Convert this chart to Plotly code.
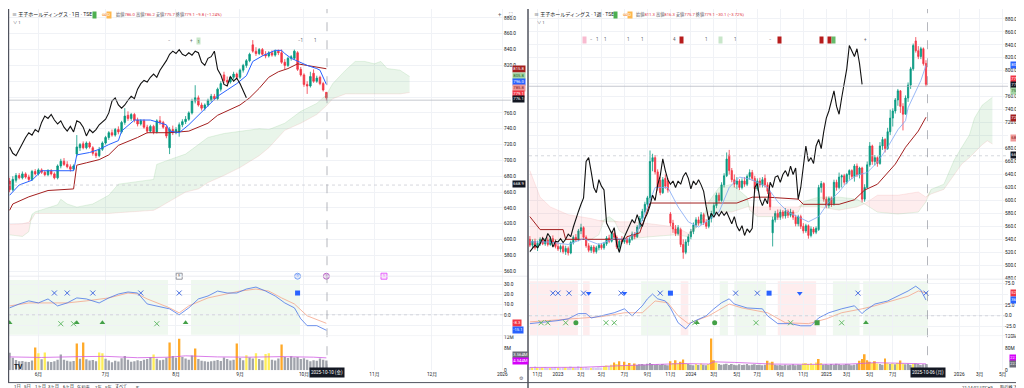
import plotly.graph_objects as go

W, H = 1024, 388
def PX(p): return p / W
def PY(p): return 1 - p / H

# ======================= LEFT PANEL : 王子ホールディングス · 1日 (daily) =======================
L_open = [674,663,675,681,678,683,679,676,686,683, 688,685,682,687,683,678,693,699,695,692,
          689,708,716,721,716,722,716,709,706,714, 722,729,735,732,739,736,748,757,753,758,
          751,746,750,742,737,743,736,750,748,742, 716,739,735,736,745,749,752,760,775,779,
          770,766,770,776,781,778,790,808,801,799, 805,809,805,814,820,826,846,838,835,840,
          834,832,836,833,838,836,824,820,829,829, 836,815,808,796,794,810,800,805,797,786.0]
L_high = [678,680,684,684,686,685,682,688,689,690, 690,687,689,689,685,695,702,703,699,695,
          695,732,722,724,724,724,718,712,717,724, 731,737,739,741,743,750,766,762,760,760,
          754,752,752,745,745,745,752,756,750,744, 742,744,742,748,752,756,762,778,795,782,
          773,772,778,784,784,792,800,812,806,807, 812,811,816,822,828,836,852,843,842,842,
          838,838,839,840,840,840,828,831,833,840, 838,818,810,800,812,815,807,807,799,786.2]
L_low = [660,661,672,676,676,677,674,674,681,681, 683,680,680,681,676,676,690,693,690,686,
         687,705,712,714,714,715,706,703,704,712, 720,726,730,730,733,734,745,750,750,748,
         743,744,740,734,735,733,734,745,740,728, 708,732,733,730,742,746,750,758,772,768,
         763,763,768,774,776,776,787,798,796,797, 802,802,803,811,817,824,836,832,833,832,
         829,830,831,831,833,822,815,818,826,827, 813,806,793,784,792,798,798,795,787,775.7]
L_close = [663,676,681,678,683,679,676,686,683,688, 685,682,687,683,678,693,699,695,692,689,
           693,717,720,716,722,717,709,706,714,722, 729,735,732,739,736,748,756,753,758,751,
           746,750,742,737,743,736,750,748,742,731, 739,735,739,745,749,752,760,775,779,770,
           766,770,776,781,778,790,797,801,799,805, 809,805,814,820,826,834,838,835,840,834,
           832,836,833,838,836,824,820,829,831,838, 815,808,796,794,806,800,804,797,789,779.1]
L_vol = [6.4,4.6,3.8,3.3,3.4,3.1,3.0,3.6,8.4,6.2, 4.0,6.5,3.2,3.0,3.3,3.9,5.8,3.9,3.5,3.2,
         3.4,9.8,4.2,10.2,4.0,3.6,3.8,3.3,6.5,6.2, 4.2,3.6,2.9,3.5,3.2,4.4,5.2,3.9,3.1,3.3,
         3.7,3.4,3.9,4.1,4.8,5.8,4.2,3.7,3.9,4.6, 10.2,5.2,4.6,11.6,4.9,4.3,3.9,5.4,8.0,4.1,
         3.5,3.3,3.1,3.3,3.5,3.8,3.4,4.7,4.1,3.6, 3.9,9.8,4.5,3.7,5.5,4.7,4.3,6.2,4.1,3.7,
         6.0,6.2,3.9,3.6,4.3,9.5,4.9,4.5,5.1,4.7, 4.9,4.1,4.4,3.9,3.3,3.7,3.5,4.3,3.9,3.564]
L_vcol = ("ggggggggoy" "gygggggggg" "gogoggggyy" "gggggggggg" "gggggygggg"
          "oggoggggog" "gggggggggg" "goggyggygg" "yygggogggg" "gggggggggg")
L_vma_i = [0,10,22,30,40,50,55,65,75,85,95,99]
L_vma = [4.9,4.7,5.0,5.1,4.6,4.8,5.3,4.9,4.8,5.0,4.8,4.544]
L_tenkan_i = [0,3,7,10,20,21,25,28,31,34,35,39,44,49,50,53,56,59,62,65,68,71,74,76,79,83,85,86,88,90,93,96,97,99]
L_tenkan = [656,669,675,687,687,707,710,714,720,725,737,751,751,745,737,735,745,757,770,781,
            789,797,807,825,832,839,839,835,829,825,820,816,814,796]
L_kijun_i = [0,1,6,12,20,21,24,28,31,34,40,43,50,56,62,65,72,75,78,81,84,87,90,93,98,99]
L_kijun = [637,645,654,662,664,694,697,701,707,719,729,735,735,737,747,757,770,779,791,805,
           812,816,822,820,817,815.8]
L_cloud_i = [0,4,6,7,8,15,16,18,21,26,31,34,45,46,50,55,59,62,67,72,78,81,86,91,96,99,101,105,108,111,114,116,118,122,125]
L_spanA = [606,604,610,632,635,644,651,645,641,645,656,670,676,695,701,708,720,729,734,737,
           740,739,747,762,772,783,797,814,825,825,822,825,816,814,806]
L_spanB = [619,620,622,626,633,633,633,633,633,633,633,634,637,639,648,660,664,672,681,691,
           706,716,738,747,758,769,778,784,784,784,784,784,784,784,785.8]
L_oscB_i = [0,3,6,9,12,15,18,21,24,28,31,34,37,40,43,46,50,53,56,59,62,65,68,71,74,77,80,83,86,89,91,93,96,99]
L_oscB = [6.8,10.6,13.6,11.6,15.5,8.7,11.6,16.5,15.5,11.6,16.5,20.3,22.3,21.3,10.6,8.7,5.8,0,6.8,15.5,
          18.4,23.2,21.3,21.3,25.2,27.1,23.2,18.4,11.6,6.8,-3.9,-10.6,-10.6,-15.1]
L_oscO_i = [0,6,12,18,24,31,37,40,43,50,53,56,62,68,72,77,81,85,89,93,99]
L_oscO = [8.7,11.6,11.6,11.6,13.6,16.5,21.3,20.3,15.5,6.8,1.9,8.7,16.5,20.3,23.2,25.2,23.2,16.5,10.6,-1,-8.3]
L_bg_start = [-0.5, 56.7]
L_bg_end = [49.5, 90.75]
L_blueX = [14,18,26,41,53]
L_greenX = [16,20,46]
L_greenTri = [0,21,29,55]
L_blueSq = [90]
L_ev_E = [53]; L_ev_D = [90]; L_ev_P = [99]; L_ev_S = [117]
L_tick_idx = [9,30,52,72,92,114,132,154]
L_tick_txt = ['6月','7月','8月','9月','10月','11月','12月','2026']

# ======================= RIGHT PANEL : 王子ホールディングス · 1週 (weekly) =======================
R_open = [540,531,537,527,534,540,533,539,532,541, 536,529,525,529,521,526,519,535,543,539,
          553,558,543,530,523,528,521,527,531,527, 533,542,537,549,543,528,540,536,541,535,
          540,548,544,559,572,583,594,604,660,666, 644,631,612,634,630,579,565,556,549,555,
          532,520,536,544,552,562,570,565,578,566, 560,572,580,592,608,600,624,638,670,646,
          632,625,630,620,630,625,637,643,634,618, 630,624,634,624,612,550,570,580,574,582,
          576,583,577,582,574,564,575,560,553,561, 546,556,551,555,620,626,602,592,603,595,
          628,620,636,638,628,640,646,637,653,640, 650,602,620,655,684,660,666,657,684,694,
          680,706,727,738,755,769,745,733,758,778, 803,846,831,822,834,811.3]
R_high = [545,540,541,538,543,544,542,543,545,546, 540,534,532,532,530,529,538,546,548,556,
          564,560,546,534,531,531,530,534,534,536, 545,547,552,552,546,540,545,545,545,544,
          552,551,562,576,587,598,607,677,672,670, 648,636,636,640,634,582,570,562,562,558,
          540,540,548,556,566,574,575,582,581,571, 576,584,596,612,612,628,642,674,678,650,
          640,636,633,634,636,640,648,647,638,634, 635,636,640,628,615,575,584,586,586,585,
          588,586,587,585,578,578,578,565,564,563, 560,559,560,624,630,628,606,606,606,632,
          632,643,640,641,642,648,648,656,657,652, 652,625,660,690,686,670,668,690,698,696,
          712,740,742,758,772,770,750,762,782,806, 842,852,838,837,836,816.3]
R_low = [528,526,524,522,530,531,530,529,530,533, 526,522,520,518,516,515,517,532,536,537,
         548,540,527,520,519,518,518,523,524,524, 530,534,535,540,525,520,533,533,532,531,
         538,540,542,556,568,580,590,600,645,640, 615,608,610,618,612,560,550,545,546,528,
         510,517,530,540,548,558,561,562,562,556, 557,566,577,588,596,598,620,636,640,628,
         620,618,616,617,621,622,632,630,612,615, 620,620,620,610,585,529,566,570,570,572,
         572,573,574,570,560,560,556,549,550,541, 543,548,548,553,612,598,588,588,590,592,
         615,617,620,624,625,632,633,629,636,634, 597,598,618,652,655,654,652,655,678,674,
         678,701,714,734,746,735,708,745,752,772, 800,828,818,818,808,775.7]
R_close = [531,537,527,534,540,533,539,532,541,536, 529,525,529,521,526,519,535,543,539,553,
           558,543,530,523,528,521,527,531,527,533, 542,537,549,543,528,537,536,541,535,540,
           548,544,559,572,583,594,604,660,666,644, 620,612,632,622,616,565,556,549,558,532,
           520,536,544,552,562,570,565,578,566,560, 572,580,592,608,600,624,638,664,646,632,
           625,630,620,630,625,637,643,634,618,630, 624,632,624,614,590,570,580,574,582,576,
           583,577,582,574,564,575,560,553,561,546, 556,551,557,620,626,602,592,603,595,628,
           620,636,638,628,640,646,637,653,640,650, 602,620,655,684,660,666,657,684,694,680,
           706,727,738,755,769,745,733,758,778,803, 839,831,822,834,811,779.1]
R_vol = [12,10,13,9,8,10,11,9,8,10, 12,9,8,10,11,9,13,10,9,14, 12,10,11,9,8,10,9,11,10,15,
         17,14,20,28,22,32,18,30,20,26, 18,24,19,21,22,20,23,26,22,20, 21,19,22,20,18,32,26,36,24,30,
         38,24,22,20,18,22,19,24,20,18, 22,113,36,28,22,20,21,23,19,22, 20,18,21,19,20,22,18,20,21,19,
         20,18,20,34,28,30,20,18,19,17, 20,18,19,21,18,20,19,24,26,22, 25,20,28,40,26,20,21,19,22,20,
         23,21,19,20,22,21,18,20,22,34, 40,57,36,30,26,32,24,22,20,42, 25,22,24,21,26,35,24,21,23,20,
         22,24,22,19,21,22.364]
R_vcol = ("pypypyppyp" "pyppyppypp" "ypppyppppy" "ypyoyoyoyo" "yogggggggg" "gggggoyoyo"
          "oygggygygg" "yooygggggg" "gggggggggg" "gggoyogggg" "gggggggyyy" "yyyoyggggg"
          "gggggggggo" "ooooyoyggo" "ygygyoyggg" "yggggg")
R_vma_i = [0,20,35,50,60,70,72,80,95,110,125,135,145,155]
R_vma = [10,10.5,16,20,24,22,30,28,22,21,22,27,24,22.763]
R_tenkan_i = [0,7,15,21,27,33,38,42,46,49,54,58,62,66,70,74,78,82,86,89,93,97,101,105,109,113,117,121,124,128,132,136,140,144,147,148,151,153,155]
R_tenkan = [536,536,532,541,532,541,540,552,590,620,620,590,567,559,570,582,620,636,633,628,
            620,598,582,575,567,575,598,613,628,639,643,659,682,709,723,743,769,785,808.3]
R_kijun_i = [0,4,13,14,37,38,43,47,81,87,93,105,107,121,127,131,136,143,147,149,152,155]
R_kijun = [575,555,555,540,540,544,550,596,596,605,605,602,594,594,601,616,625,656,682,692,707,728.3]
R_cloud_i = [0,4,8,15,24,27,29,31,33,35,40,47,57,62,66,68,70,74,79,85,86,89,97,105,107,113,121,128,131,136,144,152,155,157,162,166,169,172,174,177,179,181]
R_spanA = [539,539,539,540,540,547,570,575,569,553,541,544,547,544,562,575,598,620,625,605,
           585,575,575,582,598,605,605,602,595,582,579,582,598,617,625,662,682,701,727,747,753,759]
R_spanB = [646,605,590,578,572,569,567,567,567,567,567,564,559,549,567,572,582,582,582,590,
           590,590,590,590,590,590,585,590,595,608,608,613,605,610,617,640,656,666,674,686,692,687]
R_oscB_i = [0,4,11,15,19,22,24,28,33,37,40,44,46,48,50,53,55,58,61,63,65,69,72,75,78,80,85,91,93,97,102,106,110,113,117,122,127,130,131,135,140,144,148,151,153,155]
R_oscB = [-18,-16,-11,-7,5,5,-5,0,7,16,0,23,39,50,39,34,18,-16,-30,-16,-11,0,16,30,39,27,18,16,0,-18,
          -18,-23,-23,-5,7,16,23,5,11,27,34,45,57,68,59,36.3]
R_oscO_i = [0,15,28,37,44,49,54,58,62,70,78,83,93,100,109,116,122,130,135,148,152,155]
R_oscO = [-14,-7,-2,7,7,34,30,0,-18,0,27,18,7,-16,-18,-7,7,16,23,45,57,52.6]
R_pink_start = [0,20.8,59,97]
R_pink_end = [18.8,23.4,62,112]
R_green_start = [43.5,74.3,80,118.6,130.4]
R_green_end = [55.2,77.5,92.4,129,155.8]
R_blueX = [9,11,15.3,21,35.7,51,80.5,89,128.4,155]
R_blueTri = [23,37,105.6]
R_blueSq = [55,93.6]
R_greenX = [4.4,7,14,29.8,33,64.5,88.5,102,122]
R_greenDot = [18,72.3]
R_greenTri = [65.4,131.5]
R_greenSq = [112.4]
R_ev_R = [3.2,14.9]
R_ev_D = [23,49.7,75.8,101.9,128,155.3]
R_ev_E = [29.6,42.6,55.6,68.7,83,93.5,107.8,121.5,135.2,147]
R_ev_S = [159.5]
R_tick_idx = [3,11,20,28,37,46,55,63,72,81,89,98,107,116,124,133,142,168,176,185]
R_tick_txt = ['11月','2023','3月','5月','7月','9月','11月','2024','3月','5月','7月','9月','11月',
              '2025','3月','5月','7月','2026','3月','5月']

# price-scale tags: (text, background, text colour, pixel row)
L_tags_main = [('815.8', '#a31f1f', 'white', 61), ('805.8', '#a5d6a7', '#1b5e20', 67.5),
               ('796.0', '#2962FF', 'white', 74), ('785.8', '#ef9a9a', '#7f1d1d', 80),
               ('779.1', '#F23645', 'white', 85.5), ('776.1', '#131722', 'white', 90.5),
               ('668.9', '#131722', 'white', 177)]
L_tags_osc = [('-8.3', '#F23645', 'white', 317.5), ('-15.1', '#2962FF', 'white', 324)]
L_tags_vol = [('3.564M', '#6b6e78', 'white', 349.5), ('4.544M', '#d500f9', 'white', 355.5)]
R_tags_main = [('808.3', '#2962FF', 'white', 57), ('779.1', '#F23645', 'white', 71),
               ('776.1', '#131722', 'white', 76.5), ('759.0', '#a5d6a7', '#1b5e20', 83),
               ('728.3', '#a31f1f', 'white', 110), ('687.0', '#ef9a9a', '#7f1d1d', 130),
               ('668.9', '#131722', 'white', 148)]
R_tags_osc = [('52.6', '#F23645', 'white', 287), ('36.3', '#2962FF', 'white', 294)]
R_tags_vol = [('22.763M', '#d500f9', 'white', 352.5), ('22.364M', '#6b6e78', 'white', 358.5)]

# ======================= styling =======================
UP, DN = '#089981', '#F23645'
TENKAN, KIJUN = '#2962FF', '#A31F1F'
CLOUD_G, CLOUD_R = 'rgba(76,175,80,0.12)', 'rgba(242,54,69,0.09)'
BG_G, BG_R = 'rgba(76,175,80,0.09)', 'rgba(242,54,69,0.09)'
VC = {'g': '#a0a3ab', 'o': '#ffa928', 'y': '#ffee58', 'p': '#d9cdee'}
OSC_B, OSC_O = '#4a76e8', '#f4a48a'
FONT = 'Roboto, "Noto Sans CJK JP", sans-serif'

fig = go.Figure()

def add_cloud(xs, a, b, xa, ya):
    m = [max(p, q) for p, q in zip(a, b)]
    common = dict(mode='lines', xaxis=xa, yaxis=ya, showlegend=False, hoverinfo='skip')
    fig.add_trace(go.Scatter(x=xs, y=b, line=dict(width=0), **common))
    fig.add_trace(go.Scatter(x=xs, y=m, line=dict(width=0), fill='tonexty', fillcolor=CLOUD_G, **common))
    fig.add_trace(go.Scatter(x=xs, y=a, line=dict(width=0), **common))
    fig.add_trace(go.Scatter(x=xs, y=m, line=dict(width=0), fill='tonexty', fillcolor=CLOUD_R, **common))
    fig.add_trace(go.Scatter(x=xs, y=a, line=dict(color='rgba(129,199,132,0.35)', width=0.6), **common))
    fig.add_trace(go.Scatter(x=xs, y=b, line=dict(color='rgba(239,154,154,0.35)', width=0.6), **common))

def line(xs, ys, color, width, xa, ya, dash=None):
    fig.add_trace(go.Scatter(x=xs, y=ys, mode='lines', line=dict(color=color, width=width, dash=dash),
                             xaxis=xa, yaxis=ya, showlegend=False, hoverinfo='skip'))

def candles(o, h, l, c, xa, ya):
    fig.add_trace(go.Candlestick(x=list(range(len(c))), open=o, high=h, low=l, close=c,
                                 xaxis=xa, yaxis=ya, whiskerwidth=0,
                                 increasing=dict(line=dict(color=UP, width=0.8), fillcolor=UP),
                                 decreasing=dict(line=dict(color=DN, width=0.8), fillcolor=DN),
                                 showlegend=False, hoverinfo='skip'))

def marks(xs, yv, symbol, color, size, xa, ya, lw=1.0, fill=None, text=None, tsize=3.5, tcolor='#333'):
    fig.add_trace(go.Scatter(x=xs, y=[yv] * len(xs), mode='markers+text' if text else 'markers',
                             text=[text] * len(xs) if text else None, textposition='middle center',
                             textfont=dict(size=tsize, color=tcolor),
                             marker=dict(symbol=symbol, size=size, color=fill or color,
                                         line=dict(color=color, width=lw)),
                             xaxis=xa, yaxis=ya, cliponaxis=False, showlegend=False, hoverinfo='skip'))

# ---------- left main ----------
add_cloud(L_cloud_i, L_spanA, L_spanB, 'x', 'y')
line(L_kijun_i, L_kijun, KIJUN, 1.0, 'x', 'y')
line(L_tenkan_i, L_tenkan, TENKAN, 1.0, 'x', 'y')
line([i - 25 for i in range(25, len(L_close))], L_close[25:], '#111111', 1.1, 'x', 'y')
candles(L_open, L_high, L_low, L_close, 'x', 'y')

# ---------- left oscillator ----------
line(L_oscO_i, L_oscO, OSC_O, 0.8, 'x2', 'y2')
line(L_oscB_i, L_oscB, OSC_B, 0.8, 'x2', 'y2')
marks(L_blueX, 21.3, 'x-thin', '#4a6fe0', 5, 'x2', 'y2', lw=1)
marks(L_greenX, -8.7, 'x-thin', '#66bb6a', 5, 'x2', 'y2', lw=1)
marks(L_greenTri, -7.7, 'triangle-up', '#43a047', 5, 'x2', 'y2', lw=0)
marks(L_blueSq, 21.3, 'square', '#2962FF', 5, 'x2', 'y2', lw=0)
marks(L_ev_E, 37.7, 'square', '#787b86', 6, 'x2', 'y2', lw=0.8, fill='white', text='E')
marks(L_ev_D, 37.7, 'circle', '#5b8def', 6, 'x2', 'y2', lw=0.8, fill='#e3ecfd', text='D', tcolor='#2962FF')
marks(L_ev_P, 37.7, 'circle', '#ab47bc', 6, 'x2', 'y2', lw=0.8, fill='#f3e5f5', text='S', tcolor='#ab47bc')
marks(L_ev_S, 37.7, 'square', '#e040fb', 6, 'x2', 'y2', lw=0.8, fill='#fce4fc', text='S', tcolor='#e040fb')

# ---------- left volume ----------
fig.add_trace(go.Bar(x=list(range(len(L_vol))), y=L_vol, width=0.72,
                     marker=dict(color=[VC[c] for c in L_vcol], line=dict(width=0)),
                     xaxis='x3', yaxis='y3', showlegend=False, hoverinfo='skip'))
line(L_vma_i, L_vma, '#d05ce3', 0.8, 'x3', 'y3')

# ---------- right main ----------
add_cloud(R_cloud_i, R_spanA, R_spanB, 'x4', 'y4')
line(R_kijun_i, R_kijun, KIJUN, 1.0, 'x4', 'y4')
line(R_tenkan_i, R_tenkan, '#7fa7f5', 0.8, 'x4', 'y4')
line([j - 25 for j in range(25, len(R_close))], R_close[25:], '#111111', 1.1, 'x4', 'y4')
candles(R_open, R_high, R_low, R_close, 'x4', 'y4')

# ---------- right oscillator ----------
line(R_oscO_i, R_oscO, OSC_O, 0.8, 'x5', 'y5')
line(R_oscB_i, R_oscB, OSC_B, 0.8, 'x5', 'y5')
marks(R_blueX, 52, 'x-thin', '#4a6fe0', 5, 'x5', 'y5', lw=1)
marks(R_blueTri, 52, 'triangle-down', '#2962FF', 5, 'x5', 'y5', lw=0)
marks(R_blueSq, 52, 'square', '#2962FF', 5, 'x5', 'y5', lw=0)
marks(R_greenX, -16, 'x-thin', '#66bb6a', 5, 'x5', 'y5', lw=1)
marks(R_greenDot, -16, 'circle', '#43a047', 5, 'x5', 'y5', lw=0)
marks(R_greenTri, -16, 'triangle-up', '#43a047', 5, 'x5', 'y5', lw=0)
marks(R_greenSq, -16, 'square', '#43a047', 5, 'x5', 'y5', lw=0)
marks(R_ev_R, 91, 'square', '#e57373', 6, 'x5', 'y5', lw=0.8, fill='#fdecec', text='D', tcolor='#e53935')
marks(R_ev_D, 91, 'circle', '#5b8def', 6, 'x5', 'y5', lw=0.8, fill='#e3ecfd', text='D', tcolor='#2962FF')
marks(R_ev_E, 91, 'square', '#787b86', 6, 'x5', 'y5', lw=0.8, fill='white', text='E')
marks(R_ev_S, 91, 'square', '#e040fb', 6, 'x5', 'y5', lw=0.8, fill='#fce4fc', text='S', tcolor='#e040fb')

# ---------- right volume ----------
fig.add_trace(go.Bar(x=list(range(len(R_vol))), y=R_vol, width=0.72,
                     marker=dict(color=[VC[c] for c in R_vcol], line=dict(width=0)),
                     xaxis='x6', yaxis='y6', showlegend=False, hoverinfo='skip'))
line(R_vma_i, R_vma, '#d05ce3', 0.8, 'x6', 'y6')

# ======================= axes =======================
tickf = dict(size=4.8, color='#131722', family=FONT)
GRID = '#f0f2f6'
def xax(dom, rng, anchor, vals, txt, show):
    return dict(domain=dom, range=rng, anchor=anchor, tickvals=vals, ticktext=txt,
                showticklabels=show, showgrid=True, gridcolor=GRID, gridwidth=0.6, zeroline=False,
                showline=False, ticks='', tickfont=tickf, fixedrange=True, rangeslider=dict(visible=False))

def yax(top, bot, rng, pos, vals, fmt, tags, grid=True):
    # hide tick labels that sit under a price-scale tag (as on the reference)
    texts = []
    for v in vals:
        ypx = top + (rng[1] - v) / (rng[1] - rng[0]) * (bot - top)
        hidden = any(abs(ypx - t[3]) < 3.6 for t in tags)
        texts.append('' if hidden else fmt(v))
    return dict(domain=[PY(bot), PY(top)], range=rng, anchor='free', position=pos, side='right',
                tickvals=vals, ticktext=texts, showgrid=grid, gridcolor=GRID, gridwidth=0.6,
                zeroline=False, showline=False, ticks='', tickfont=tickf, fixedrange=True)

LXD, RXD = [0, PX(503)], [PX(521), PX(1000)]
LXR, RXR = [-0.5, 156.7], [-0.35, 187.1]
LPOS, RPOS = PX(495), PX(996)
lp = list(range(560, 881, 20)); rp = list(range(480, 881, 20))
f1 = lambda v: f'{v:.1f}'
fm = lambda v: f'{v}M' if v else '0'
layout = dict(
    xaxis=xax(LXD, LXR, 'y', L_tick_idx, L_tick_txt, False),
    xaxis2=xax(LXD, LXR, 'y2', L_tick_idx, L_tick_txt, False),
    xaxis3=xax(LXD, LXR, 'y3', L_tick_idx, L_tick_txt, True),
    xaxis4=xax(RXD, RXR, 'y4', R_tick_idx, R_tick_txt, False),
    xaxis5=xax(RXD, RXR, 'y5', R_tick_idx, R_tick_txt, False),
    xaxis6=xax(RXD, RXR, 'y6', R_tick_idx, R_tick_txt, True),
    yaxis=yax(0, 270, [553.75, 891.25], LPOS, lp, f1, L_tags_main),
    yaxis2=yax(270, 330, [-20.3, 37.7], LPOS, [-10, 0, 10, 20, 30], f1, L_tags_osc),
    yaxis3=yax(330, 365, [0, 12.73], LPOS, [0, 4, 8, 12], fm, L_tags_vol, grid=False),
    yaxis4=yax(0, 273, [478.5, 895.3], RPOS, rp, f1, R_tags_main),
    yaxis5=yax(273, 330, [-45.5, 84.1], RPOS, [-25, 0, 25, 50, 75], f1, R_tags_osc),
    yaxis6=yax(330, 365, [0, 123.7], RPOS, [0, 40, 80, 120], fm, R_tags_vol, grid=False),
)

# ======================= shapes =======================
shapes = []
for s, e in zip(L_bg_start, L_bg_end):
    shapes.append(dict(type='rect', xref='x2', yref='y2', x0=s, x1=e, y0=-19.4, y1=33.9,
                       fillcolor=BG_G, line=dict(width=0), layer='below'))
for s, e in zip(R_pink_start, R_pink_end):
    shapes.append(dict(type='rect', xref='x5', yref='y5', x0=s, x1=e, y0=-45.5, y1=79.5,
                       fillcolor=BG_R, line=dict(width=0), layer='below'))
for s, e in zip(R_green_start, R_green_end):
    shapes.append(dict(type='rect', xref='x5', yref='y5', x0=s, x1=e, y0=-45.5, y1=79.5,
                       fillcolor=BG_G, line=dict(width=0), layer='below'))
shapes += [
    dict(type='line', xref='paper', yref='y', x0=0, x1=PX(503), y0=776.1, y1=776.1, line=dict(color='#b8bbc4', width=0.8)),
    dict(type='line', xref='paper', yref='y4', x0=PX(521), x1=PX(1000), y0=776.1, y1=776.1, line=dict(color='#b8bbc4', width=0.8)),
    dict(type='line', xref='paper', yref='y', x0=0, x1=PX(503), y0=668.9, y1=668.9, line=dict(color='#c4c7cf', width=0.7, dash='dot')),
    dict(type='line', xref='paper', yref='y4', x0=PX(521), x1=PX(1000), y0=668.9, y1=668.9, line=dict(color='#c4c7cf', width=0.7, dash='dot')),
    dict(type='line', xref='paper', yref='y2', x0=0, x1=PX(503), y0=0, y1=0, line=dict(color='#c4c7cf', width=0.7, dash='dot')),
    dict(type='line', xref='paper', yref='y5', x0=PX(521), x1=PX(1000), y0=0, y1=0, line=dict(color='#c4c7cf', width=0.7, dash='dot')),
    dict(type='line', xref='x', yref='paper', x0=99.2, x1=99.2, y0=PY(368), y1=1, line=dict(color='#9598a1', width=0.7, dash='dash')),
    dict(type='line', xref='x4', yref='paper', x0=155.6, x1=155.6, y0=PY(368), y1=1, line=dict(color='#9598a1', width=0.7, dash='dash')),
    dict(type='line', xref='paper', yref='paper', x0=0, x1=PX(520), y0=PY(270), y1=PY(270), line=dict(color='#e6e8ee', width=0.8)),
    dict(type='line', xref='paper', yref='paper', x0=0, x1=PX(520), y0=PY(330), y1=PY(330), line=dict(color='#eceef2', width=0.6)),
    dict(type='line', xref='paper', yref='paper', x0=PX(521), x1=1, y0=PY(273), y1=PY(273), line=dict(color='#e6e8ee', width=0.8)),
    dict(type='line', xref='paper', yref='paper', x0=PX(521), x1=1, y0=PY(330), y1=PY(330), line=dict(color='#eceef2', width=0.6)),
    dict(type='line', xref='paper', yref='paper', x0=0, x1=1, y0=PY(377.5), y1=PY(377.5), line=dict(color='#50535e', width=1)),
    dict(type='line', xref='paper', yref='paper', x0=PX(0.6), x1=PX(0.6), y0=PY(377.5), y1=1, line=dict(color='#50535e', width=1.2)),
    dict(type='line', xref='paper', yref='paper', x0=PX(520), x1=PX(520), y0=0, y1=1, line=dict(color='#50535e', width=1.5)),
]

# ======================= annotations =======================
ann = []
def txt(x, y, s, size=5, color='#131722', xanchor='left', **kw):
    ann.append(dict(x=PX(x), y=PY(y), xref='paper', yref='paper', text=s, showarrow=False,
                    xanchor=xanchor, yanchor='middle', font=dict(size=size, color=color, family=FONT), **kw))
def tag(x, y, s, bg, fg='white', size=4.2):
    txt(x, y, s, size=size, color=fg, bgcolor=bg, borderpad=0.3)

R = '#e0313e'
def ohlc(o, h, l, c, chg):
    sp = lambda v: f"<span style='color:{R}'>{v}</span>"
    return f"始値{sp(o)} 高値{sp(h)} 安値{sp(l)} 終値{sp(c)} {sp(chg)}"

txt(2, 6, '≡ 王子ホールディングス · 1日 · TSE', size=5)
tag(84, 6, '  ', '#4caf50')
txt(92, 6, '∞', size=4.5, color='#f57c00')
tag(98, 6, 'D', '#ffb74d')
txt(106, 6, ohlc('786.0', '786.2', '775.7', '779.1', '−9.8 (−1.24%)'), size=4.2, color='#5d606b')
txt(3, 14, '∨ 1', size=4.3, color='#5d606b')
txt(488, 5, '+', size=6, color='#5d606b')
txt(499, 5, '⛶', size=5, color='#5d606b')

txt(524, 6, '≡ 王子ホールディングス · 1週 · TSE', size=5)
tag(605, 6, '  ', '#4caf50')
txt(613, 6, '∞', size=4.5, color='#f57c00')
tag(619, 6, 'D', '#ffb74d')
txt(626, 6, ohlc('811.3', '816.3', '775.7', '779.1', '−30.1 (−3.72%)'), size=4.2, color='#5d606b')
txt(527, 14, '∨ 1', size=4.3, color='#5d606b')

for s, bg, fg, y in L_tags_main + L_tags_osc + L_tags_vol:
    tag(504, y, s, bg, fg)
for s, bg, fg, y in R_tags_main + R_tags_osc:
    tag(1002, y, s, bg, fg)
for s, bg, fg, y in R_tags_vol:
    tag(1001, y, s, bg, fg, size=3.8)

ann.append(dict(x=99.2, y=PY(373), xref='x3', yref='paper', text='2025-10-10 (金)', showarrow=False,
                font=dict(size=4.5, color='white', family=FONT), bgcolor='#131722', borderpad=1.0))
ann.append(dict(x=155.6, y=PY(373), xref='x6', yref='paper', text='2025-10-06 (月)', showarrow=False,
                font=dict(size=4.5, color='white', family=FONT), bgcolor='#131722', borderpad=1.0))

for i, s in [(50, '−'), (57, '+'), (91, '−1'), (95.5, '1')]:
    ann.append(dict(x=i, y=851, xref='x', yref='y', text=s, showarrow=False, font=dict(size=4.5, color='#5d606b')))
ann.append(dict(x=59, y=851, xref='x', yref='y', text='1', showarrow=False, bgcolor='#c8e6c9',
                font=dict(size=4, color='#1b5e20'), borderpad=0.5))
for j, s in [(24, '−'), (26.6, '1'), (29.4, '1'), (38.4, '1'), (43.9, '1'), (56.4, '4'), (69.3, '1'),
             (80.6, '1'), (94.3, '−'), (131.4, '+')]:
    ann.append(dict(x=j, y=848, xref='x4', yref='y4', text=s, showarrow=False, font=dict(size=4.5, color='#5d606b')))
for j, bg in [(21.2, '#f8bbd0'), (59.2, '#b71c1c'), (97.8, '#b71c1c'), (114, '#b71c1c'), (117.2, '#b71c1c'),
              (74.4, '#c8e6c9'), (119, '#66bb6a')]:
    ann.append(dict(x=j, y=848, xref='x4', yref='y4', text='  ', showarrow=False, bgcolor=bg,
                    font=dict(size=4), borderpad=0.6))

txt(4, 362, '<b>TV</b>', size=6.5, color='#131722')
for x, s in [(4, '1日'), (14, '5日'), (25, '1ヶ月'), (38, '3ヶ月'), (53, '6ヶ月'), (67, '年初来'),
             (85, '1年'), (95, '5年'), (105, 'すべて'), (126, '⇱')]:
    txt(x, 382, s, size=4.3, color='#131722')
txt(509, 373, '⚙', size=5, color='#5d606b')
txt(952, 382, '21:14:02 UTC+9', size=4.3, color='#131722')
txt(990, 382, '取引終了', size=4.3, color='#131722')
txt(1011, 382, '⤡', size=4.3, color='#5d606b')

fig.update_layout(width=W, height=H, margin=dict(l=0, r=0, t=0, b=0), autosize=False,
                  paper_bgcolor='white', plot_bgcolor='white', showlegend=False,
                  font=dict(family=FONT, size=5, color='#131722'), bargap=0.2,
                  shapes=shapes, annotations=ann, **layout)
fig.write_html('out.html')
